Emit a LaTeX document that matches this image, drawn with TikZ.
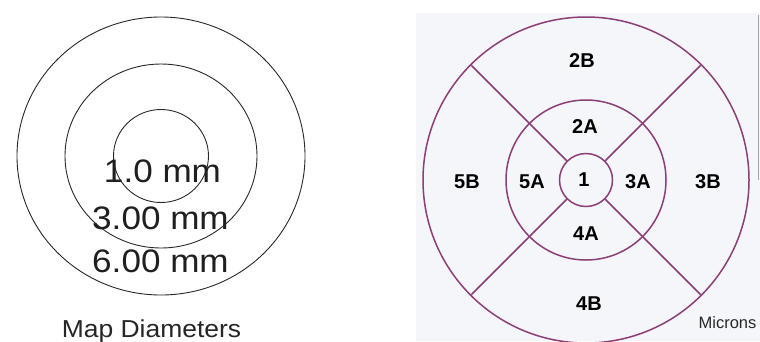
\documentclass[tikz,border=0pt]{standalone}
\usepackage{fontspec}
\usetikzlibrary{calc}
\setmainfont{Liberation Sans}
\newfontfamily\leftfont[FakeStretch=1.08]{Liberation Sans}
\definecolor{ringpurple}{RGB}{140,62,118}
\definecolor{panelbg}{RGB}{244,246,250}
\definecolor{inkgray}{RGB}{40,40,40}
\tikzset{
  ring/.style={draw=inkgray, line width=0.9pt},
  zone/.style={draw=ringpurple, line width=1.5pt},
  mmlabel/.style={anchor=base, inner sep=0pt, text=black!88, font=\leftfont\fontsize{32.5}{32.5}\selectfont},
  caption/.style={anchor=base, inner sep=0pt, text=black!85, font=\leftfont\fontsize{24.5}{24.5}\selectfont},
  zonelabel/.style={anchor=base, inner sep=0pt, text=black, font=\fontsize{20}{20}\selectfont\bfseries},
  unitlabel/.style={anchor=base, inner sep=0pt, text=inkgray, font=\fontsize{16.5}{16.5}\selectfont}
}
\begin{document}
\begin{tikzpicture}[x=1pt,y=-1pt]
\useasboundingbox (0,0) rectangle (760,341);
\fill[white] (0,0) rectangle (760,341);
% right panel background
\fill[panelbg] (416,13) rectangle (760,341);
\draw[gray!70, line width=0.8pt] (758,15) -- (758,180);

% ---------- left: map diameters ----------
\draw[ring] (161,156) ellipse [x radius=144, y radius=139];
\draw[ring] (161,156) ellipse [x radius=96, y radius=92];
\draw[ring] (161,156) ellipse [x radius=47.5, y radius=46.5];
\node[mmlabel] (d1) at (162.5,182) {1.0 mm};
\node[mmlabel] (d3) at (160.5,229) {3.00 mm};
\node[mmlabel] (d6) at (160.5,272) {6.00 mm};
\node[caption] (cap) at (151.5,337) {Map Diameters};

% ---------- right: zones ----------
\coordinate (c) at (586,180);
\begin{scope}
  \clip (0,0) rectangle (760,341);
  \draw[zone] (c) circle [radius=163];
\end{scope}
\draw[zone] (c) circle [radius=80];
\draw[zone] (c) circle [radius=26.5];
\foreach \a in {45,135,225,315} {
  \draw[zone] ($(c)+(\a:26.5)$) -- ($(c)+(\a:162)$);
}
\node[zonelabel] (z2B) at (582,67) {2B};
\node[zonelabel] (z2A) at (585,133) {2A};
\node[zonelabel] (z5B) at (467,188) {5B};
\node[zonelabel] (z5A) at (532,188) {5A};
\node[zonelabel] (z1)  at (584,186) {1};
\node[zonelabel] (z3A) at (638,188) {3A};
\node[zonelabel] (z3B) at (708,188) {3B};
\node[zonelabel] (z4A) at (586,240) {4A};
\node[zonelabel] (z4B) at (589,310) {4B};
\node[unitlabel] (mic) at (727.5,328) {Microns};
\end{tikzpicture}
\end{document}
